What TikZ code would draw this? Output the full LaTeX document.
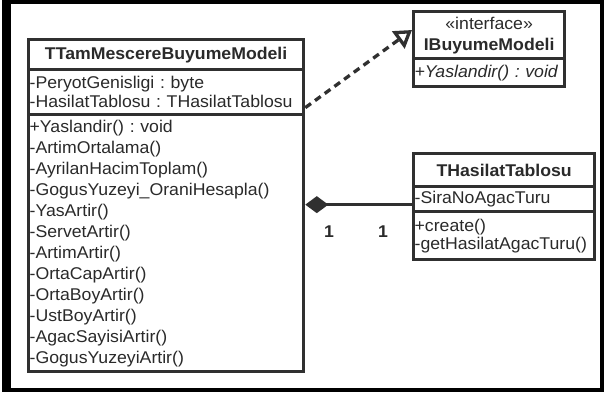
\documentclass[tikz,border=0pt]{standalone}
\usepackage{fontspec}
\setmainfont{Liberation Sans}[FakeStretch=1.04]
\usetikzlibrary{arrows.meta}
\definecolor{linec}{HTML}{303030}
\definecolor{txtc}{HTML}{2A2A2A}
\frenchspacing
\begin{document}
\begin{tikzpicture}[x=1pt,y=-1pt,
  comp/.style={draw=linec, line width=3.3pt, anchor=north west, inner xsep=1pt, inner ysep=0pt,
    text=txtc, font=\fontsize{17}{21}\selectfont},
  ttl/.style={comp, align=center, font=\bfseries\fontsize{17}{21}\selectfont},
  lst/.style={comp, align=left},
  mult/.style={text=txtc, font=\bfseries\fontsize{17}{21}\selectfont, inner sep=0pt},
  conn/.style={draw=linec, line width=3.3pt},
  realize/.style={conn, dash pattern=on 7pt off 5pt,
    -{Triangle[open, length=17pt, width=21pt]}},
  compose/.style={conn, {Diamond[length=23pt, width=17pt, fill=linec]}-}
]
\useasboundingbox (0,0) rectangle (604,392);
\fill[white] (0,0) rectangle (604,392);
\fill[black] (2,0) rectangle (604,392);
\fill[white] (11,4) rectangle (600,388);

% TTamMescereBuyumeModeli
\node[ttl, text width=273pt, minimum height=30pt] (tamT) at (27,38) {TTamMescereBuyumeModeli};
\node[lst, text width=273pt, minimum height=45pt, font=\fontsize{17}{19}\selectfont] (tamA) at (27,68)
  {-PeryotGenisligi : byte\\-HasilatTablosu : THasilatTablosu};
\node[lst, text width=273pt, minimum height=257pt] (tamM) at (27,113)
  {+Yaslandir() : void\\-ArtimOrtalama()\\-AyrilanHacimToplam()\\-GogusYuzeyi\_OraniHesapla()\\-YasArtir()\\-ServetArtir()\\-ArtimArtir()\\-OrtaCapArtir()\\-OrtaBoyArtir()\\-UstBoyArtir()\\-AgacSayisiArtir()\\-GogusYuzeyiArtir()};

% IBuyumeModeli
\node[comp, align=center, text width=149pt, minimum height=47pt] (ifT) at (412,10)
  {«interface»\\\textbf{IBuyumeModeli}};
\node[lst, text width=149pt, minimum height=28pt, font=\itshape\fontsize{17}{21}\selectfont] (ifM) at (412,57)
  {+Yaslandir() : void};

% THasilatTablosu
\node[ttl, text width=179pt, minimum height=33pt] (thT) at (412,152) {THasilatTablosu};
\node[lst, text width=179pt, minimum height=25pt] (thA) at (412,185) {-SiraNoAgacTuru};
\node[lst, text width=179pt, minimum height=48pt, font=\fontsize{17}{18}\selectfont] (thM) at (412,210)
  {+create()\\-getHasilatAgacTuru()};

% realization
\coordinate (rStart) at ([yshift=-15.5pt]tamA.east);
\coordinate (rEnd) at ([yshift=-20pt]ifT.north west);
\draw[realize] (rStart) -- (rEnd);

% composition
\coordinate (aEnd) at ([yshift=-5.5pt]thA.west);
\draw[compose] (tamM.east |- aEnd) -- (aEnd);
\node[mult] (m1) at (329,232) {1};
\node[mult] (m2) at (383,232) {1};
\end{tikzpicture}
\end{document}
